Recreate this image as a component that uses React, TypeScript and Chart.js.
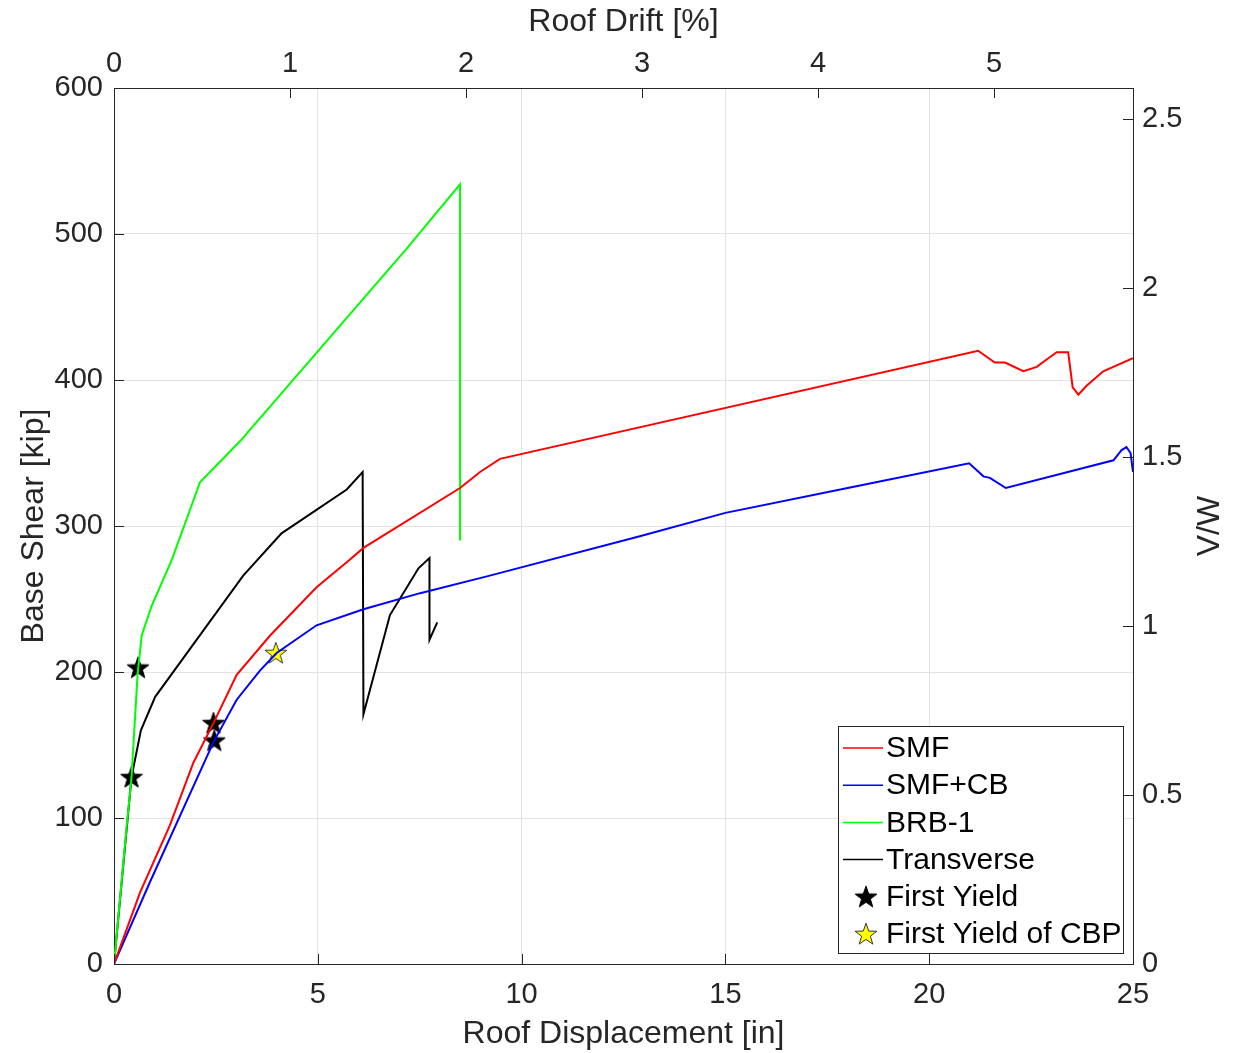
import React, { useEffect, useRef } from "react";
import { Chart, registerables } from "chart.js";

Chart.register(...registerables);

// ---- data (roof displacement [in], base shear [kip]) ----
const smfX = [0, 0.64, 1.37, 1.95, 2.44, 3.01, 3.83, 4.97, 5.79, 6.12, 8.49, 8.98, 9.47, 21.2, 21.61, 21.86, 22.31, 22.64, 22.88, 23.13, 23.41, 23.52, 23.66, 23.86, 24.27, 25.0];
const smfY = [0, 49, 95, 138, 165, 198, 225, 258, 277, 285, 326, 337, 346, 420, 412, 412, 406, 409, 414, 419, 419, 395, 390, 396, 406, 415];

const smfCbX = [0, 0.88, 2.44, 3.01, 3.58, 3.99, 4.97, 6.12, 7.51, 9.22, 12.9, 15.0, 18.0, 20.98, 21.33, 21.49, 21.88, 24.52, 24.72, 24.84, 24.94, 25.0];
const smfCbY = [0, 56, 152, 181, 201, 213, 232, 243, 254, 266, 293, 309, 326, 343, 334, 333, 326, 345, 352, 354, 350, 337];

const brbX = [0, 0.31, 0.43, 0.58, 0.68, 0.92, 1.42, 2.11, 3.09, 7.18, 8.49, 8.49];
const brbY = [0, 94, 128, 199, 225, 245, 277, 330, 358, 490, 534, 290];

const transX = [0, 0.43, 0.66, 1.01, 3.17, 4.11, 5.71, 6.1, 6.12, 6.77, 7.47, 7.74, 7.74, 7.93];
const transY = [0, 128, 160, 183, 266, 295, 325, 337, 171, 239, 271, 278, 222, 234];

const yieldX = [0.43, 0.59, 2.44, 2.46];
const yieldY = [128, 203, 165, 153];

const cbpYieldX = [3.97];
const cbpYieldY = [213];

// conversion constants
const roofHeightIn = 431.8; // 1% drift = 4.318 in
const seismicWeightKip = 231.5; // V/W = 1 at 231.5 kip

const xTicks = [0, 5, 10, 15, 20, 25];
const driftTicks = [0, 1, 2, 3, 4, 5];
const shearTicks = [0, 100, 200, 300, 400, 500, 600];
const vwTicks = [0, 0.5, 1, 1.5, 2, 2.5];

const FONT = "'Liberation Sans', Arial, Helvetica, sans-serif";
const AXIS_COLOR = "#262626";
const GRID_COLOR = "#e3e3e3";
const TICK_SIZE = 29;
const TITLE_SIZE = 32;
const LEGEND_SIZE = 30;

function pts(xs: number[], ys: number[]) {
  return xs.map((x, i) => ({ x, y: ys[i] }));
}

function makeStar(fill: string, stroke: string, size = 26) {
  const c = document.createElement("canvas");
  c.width = size;
  c.height = size;
  const ctx = c.getContext("2d")!;
  const cx = size / 2, cy = size / 2 + 0.8;
  const R = size / 2 - 1.5, r = R * 0.4;
  ctx.beginPath();
  for (let i = 0; i < 10; i++) {
    const rad = i % 2 === 0 ? R : r;
    const a = -Math.PI / 2 + (i * Math.PI) / 5;
    const px = cx + rad * Math.cos(a);
    const py = cy + rad * Math.sin(a);
    if (i === 0) ctx.moveTo(px, py);
    else ctx.lineTo(px, py);
  }
  ctx.closePath();
  ctx.fillStyle = fill;
  ctx.fill();
  ctx.strokeStyle = stroke;
  ctx.lineWidth = 1;
  ctx.stroke();
  return c;
}

const innerTicksPlugin = {
  id: "innerTicks",
  afterDatasetsDraw(chart: any) {
    const { ctx, chartArea } = chart;
    const L = 10;
    ctx.save();
    ctx.strokeStyle = AXIS_COLOR;
    ctx.lineWidth = 1;
    ctx.beginPath();
    const sx = chart.scales.x, sx2 = chart.scales.x2, sy = chart.scales.y, sy2 = chart.scales.y2;
    sx.ticks.forEach((t: any) => {
      const p = Math.round(sx.getPixelForValue(t.value)) + 0.5;
      ctx.moveTo(p, chartArea.bottom);
      ctx.lineTo(p, chartArea.bottom - L);
    });
    sx2.ticks.forEach((t: any) => {
      const p = Math.round(sx2.getPixelForValue(t.value)) + 0.5;
      ctx.moveTo(p, chartArea.top);
      ctx.lineTo(p, chartArea.top + L);
    });
    sy.ticks.forEach((t: any) => {
      const p = Math.round(sy.getPixelForValue(t.value)) + 0.5;
      ctx.moveTo(chartArea.left, p);
      ctx.lineTo(chartArea.left + L, p);
    });
    sy2.ticks.forEach((t: any) => {
      const p = Math.round(sy2.getPixelForValue(t.value)) + 0.5;
      ctx.moveTo(chartArea.right, p);
      ctx.lineTo(chartArea.right - L, p);
    });
    ctx.stroke();
    ctx.restore();
  },
};

const extrasPlugin = {
  id: "extras",
  afterDraw(chart: any) {
    const { ctx, chartArea } = chart;
    ctx.save();
    // right axis title (reads bottom-to-top)
    ctx.fillStyle = AXIS_COLOR;
    ctx.font = `${TITLE_SIZE}px ${FONT}`;
    ctx.textAlign = "center";
    ctx.textBaseline = "middle";
    ctx.translate(1210, (chartArea.top + chartArea.bottom) / 2);
    ctx.rotate(-Math.PI / 2);
    ctx.fillText("V/W", 0, 0);
    ctx.restore();

    // legend box
    ctx.save();
    const w = 285, h = 227;
    const right = chartArea.right - 10;
    const bottom = chartArea.bottom - 11;
    const left = right - w, top = bottom - h;
    ctx.fillStyle = "#ffffff";
    ctx.fillRect(left, top, w, h);
    ctx.strokeStyle = AXIS_COLOR;
    ctx.lineWidth = 1;
    ctx.strokeRect(Math.round(left) + 0.5, Math.round(top) + 0.5, w, h);
    ctx.font = `${LEGEND_SIZE}px ${FONT}`;
    ctx.textAlign = "left";
    ctx.textBaseline = "middle";
    const rowH = 37.2;
    chart.data.datasets.forEach((ds: any, i: number) => {
      const y = top + 22 + i * rowH;
      if (ds.showLine) {
        ctx.strokeStyle = ds.borderColor;
        ctx.lineWidth = 1.5;
        ctx.beginPath();
        ctx.moveTo(left + 5, y);
        ctx.lineTo(left + 45, y);
        ctx.stroke();
      } else {
        const img = ds.pointStyle as HTMLCanvasElement;
        ctx.drawImage(img, left + 28 - img.width / 2, y - img.height / 2);
      }
      ctx.fillStyle = "#000000";
      ctx.fillText(ds.label, left + 48, y + 1);
    });
    ctx.restore();
  },
};

export default function App() {
  const ref = useRef<HTMLCanvasElement | null>(null);

  useEffect(() => {
    if (!ref.current) return;
    const blackStar = makeStar("#000000", "#000000");
    const yellowStar = makeStar("#ffff00", "#333333");
    const lineDs = (label: string, xs: number[], ys: number[], color: string) => ({
      label,
      data: pts(xs, ys),
      showLine: true,
      borderColor: color,
      backgroundColor: color,
      borderWidth: 2,
      pointRadius: 0,
      tension: 0,
      xAxisID: "x",
      yAxisID: "y",
    });
    const tickFont = { family: FONT, size: TICK_SIZE };
    const titleFont = { family: FONT, size: TITLE_SIZE };
    const chart = new Chart(ref.current, {
      type: "scatter",
      data: {
        datasets: [
          lineDs("SMF", smfX, smfY, "#ff0000"),
          lineDs("SMF+CB", smfCbX, smfCbY, "#0000ff"),
          lineDs("BRB-1", brbX, brbY, "#00ff00"),
          lineDs("Transverse", transX, transY, "#000000"),
          {
            label: "First Yield",
            data: pts(yieldX, yieldY),
            showLine: false,
            pointStyle: blackStar,
            pointRadius: 13,
            borderColor: "#000000",
            backgroundColor: "#000000",
            xAxisID: "x",
            yAxisID: "y",
          },
          {
            label: "First Yield of CBP",
            data: pts(cbpYieldX, cbpYieldY),
            showLine: false,
            pointStyle: yellowStar,
            pointRadius: 13,
            borderColor: "#333333",
            backgroundColor: "#ffff00",
            xAxisID: "x",
            yAxisID: "y",
          },
        ] as any,
      },
      options: {
        responsive: false,
        animation: false,
        layout: { padding: 0 },
        plugins: {
          legend: { display: false },
          tooltip: { enabled: false },
          title: { display: false },
        },
        scales: {
          x: {
            type: "linear",
            position: "bottom",
            min: 0,
            max: 25,
            afterBuildTicks: (s: any) => {
              s.ticks = xTicks.map((v) => ({ value: v }));
            },
            afterFit: (s: any) => {
              s.height = 89;
            },
            grid: { color: GRID_COLOR, drawTicks: false, lineWidth: 1 },
            border: { display: true, color: AXIS_COLOR, width: 1 },
            ticks: {
              color: AXIS_COLOR,
              font: tickFont,
              padding: 14,
              maxRotation: 0,
              callback: (v: any) => String(v),
            },
            title: {
              display: true,
              text: "Roof Displacement [in]",
              color: AXIS_COLOR,
              font: titleFont,
              padding: { top: 0, bottom: 0 },
            },
          },
          x2: {
            type: "linear",
            position: "top",
            min: 0,
            max: (25 / roofHeightIn) * 100,
            afterBuildTicks: (s: any) => {
              s.ticks = driftTicks.map((v) => ({ value: v }));
            },
            afterFit: (s: any) => {
              s.height = 88;
            },
            grid: { drawOnChartArea: false, drawTicks: false },
            border: { display: true, color: AXIS_COLOR, width: 1 },
            ticks: {
              color: AXIS_COLOR,
              font: tickFont,
              padding: 7,
              maxRotation: 0,
              callback: (v: any) => String(v),
            },
            title: {
              display: true,
              text: "Roof Drift [%]",
              color: AXIS_COLOR,
              font: titleFont,
              padding: { top: 3, bottom: 0 },
            },
          },
          y: {
            type: "linear",
            position: "left",
            min: 0,
            max: 600,
            afterBuildTicks: (s: any) => {
              s.ticks = shearTicks.map((v) => ({ value: v }));
            },
            afterFit: (s: any) => {
              s.width = 114;
            },
            grid: { color: GRID_COLOR, drawTicks: false, lineWidth: 1 },
            border: { display: true, color: AXIS_COLOR, width: 1 },
            ticks: {
              color: AXIS_COLOR,
              font: tickFont,
              padding: 11,
              callback: (v: any) => String(v),
            },
            title: {
              display: true,
              text: "Base Shear [kip]",
              color: AXIS_COLOR,
              font: titleFont,
              padding: { top: 15, bottom: 0 },
            },
          },
          y2: {
            type: "linear",
            position: "right",
            min: 0,
            max: 600 / seismicWeightKip,
            afterBuildTicks: (s: any) => {
              s.ticks = vwTicks.map((v) => ({ value: v }));
            },
            afterFit: (s: any) => {
              s.width = 101;
            },
            grid: { drawOnChartArea: false, drawTicks: false },
            border: { display: true, color: AXIS_COLOR, width: 1 },
            ticks: {
              color: AXIS_COLOR,
              font: tickFont,
              padding: 9,
              callback: (v: any) => String(v),
            },
            title: { display: false },
          },
        },
      } as any,
      plugins: [innerTicksPlugin, extrasPlugin],
    });
    return () => chart.destroy();
  }, []);

  return (
    <div style={{ position: "absolute", left: 0, top: 0, width: 1234, height: 1053, background: "#ffffff" }}>
      <canvas ref={ref} width={1234} height={1053} style={{ display: "block" }} />
    </div>
  );
}
